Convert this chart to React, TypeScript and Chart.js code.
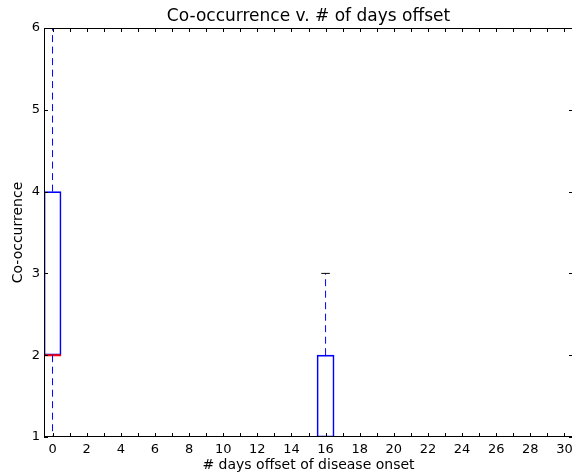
import { useEffect, useRef } from "react";
import { Chart, registerables } from "chart.js";

Chart.register(...registerables);

// Day offsets of disease onset (box positions)
const days = [0, 1, 2, 3, 4, 5, 6, 7, 8, 9, 10, 11, 12, 13, 14, 15, 16, 17, 18, 19, 20, 21, 22, 23, 24, 25, 26, 27, 28, 29, 30];

// Five-number summaries of co-occurrence per day
const whiskerLow = [1, 1, 1, 1, 1, 1, 1, 1, 1, 1, 1, 1, 1, 1, 1, 1, 1, 1, 1, 1, 1, 1, 1, 1, 1, 1, 1, 1, 1, 1, 1];
const q1 = [2, 1, 1, 1, 1, 1, 1, 1, 1, 1, 1, 1, 1, 1, 1, 1, 1, 1, 1, 1, 1, 1, 1, 1, 1, 1, 1, 1, 1, 1, 1];
const median = [2, 1, 1, 1, 1, 1, 1, 1, 1, 1, 1, 1, 1, 1, 1, 1, 1, 1, 1, 1, 1, 1, 1, 1, 1, 1, 1, 1, 1, 1, 1];
const q3 = [4, 1, 1, 1, 1, 1, 1, 1, 1, 1, 1, 1, 1, 1, 1, 1, 2, 1, 1, 1, 1, 1, 1, 1, 1, 1, 1, 1, 1, 1, 1];
const whiskerHigh = [6, 1, 1, 1, 1, 1, 1, 1, 1, 1, 1, 1, 1, 1, 1, 1, 3, 1, 1, 1, 1, 1, 1, 1, 1, 1, 1, 1, 1, 1, 1];

const yTicks = [1, 2, 3, 4, 5, 6];

const TITLE = "Co-occurrence v. # of days offset";
const X_LABEL = "# days offset of disease onset";
const Y_LABEL = "Co-occurrence";

const BOX_WIDTH = 1;
const CAP_WIDTH = 0.5;
const FONT = "'DejaVu Sans', sans-serif";

type Pt = { x: number; y: number | null };

// Build disjoint line segments separated by gap points
function segments(list: [number, number, number, number][]): Pt[] {
  const out: Pt[] = [];
  list.forEach(([x0, y0, x1, y1]) => {
    out.push({ x: x0, y: y0 }, { x: x1, y: y1 }, { x: x1, y: null });
  });
  return out;
}

export default function App() {
  const ref = useRef<HTMLCanvasElement>(null);

  useEffect(() => {
    document.body.style.margin = "0";
    document.body.style.overflow = "hidden";
    const canvas = ref.current!;

    const whiskers = segments(
      days.flatMap((d, i) => [
        [d, q1[i], d, whiskerLow[i]] as [number, number, number, number],
        [d, q3[i], d, whiskerHigh[i]] as [number, number, number, number],
      ])
    );
    const medians = segments(
      days.map((d, i) => [d - BOX_WIDTH / 2, median[i], d + BOX_WIDTH / 2, median[i]] as [number, number, number, number])
    );
    const caps = segments(
      days.flatMap((d, i) => [
        [d - CAP_WIDTH / 2, whiskerLow[i], d + CAP_WIDTH / 2, whiskerLow[i]] as [number, number, number, number],
        [d - CAP_WIDTH / 2, whiskerHigh[i], d + CAP_WIDTH / 2, whiskerHigh[i]] as [number, number, number, number],
      ])
    );

    const framePlugin = {
      id: "frame",
      afterDatasetsDraw(chart: any) {
        const { ctx, chartArea, scales } = chart;
        const { left, right, top, bottom } = chartArea;
        const xs = scales.x;
        const ys = scales.y;
        ctx.save();
        ctx.strokeStyle = "#000";
        ctx.lineWidth = 1;
        ctx.strokeRect(left + 0.5, top + 0.5, right - left - 1, bottom - top - 1);
        ctx.beginPath();
        days.forEach((d) => {
          const px = Math.round(xs.getPixelForValue(d)) + 0.5;
          ctx.moveTo(px, bottom);
          ctx.lineTo(px, bottom - 4);
          ctx.moveTo(px, top);
          ctx.lineTo(px, top + 4);
        });
        yTicks.forEach((v) => {
          const py = Math.round(ys.getPixelForValue(v)) + 0.5;
          ctx.moveTo(left, py);
          ctx.lineTo(left + 4, py);
          ctx.moveTo(right, py);
          ctx.lineTo(right - 4, py);
        });
        ctx.stroke();

        ctx.fillStyle = "#000";
        ctx.textAlign = "center";
        ctx.textBaseline = "middle";
        const cx = (left + right) / 2;
        ctx.font = `17px ${FONT}`;
        ctx.fillText(TITLE, cx, 17);
        ctx.font = `14px ${FONT}`;
        ctx.fillText(X_LABEL, cx, 465);
        ctx.translate(18, (top + bottom) / 2);
        ctx.rotate(-Math.PI / 2);
        ctx.fillText(Y_LABEL, 0, 0);
        ctx.restore();
      },
    };

    const chart = new Chart(canvas, {
      type: "bar",
      data: {
        datasets: [
          {
            type: "bar",
            data: days.map((d, i) => ({ x: d, y: [q1[i], q3[i]] })) as any,
            backgroundColor: "rgba(0,0,0,0)",
            borderColor: "#0000ff",
            borderWidth: 1,
            borderSkipped: false,
            barPercentage: 1,
            categoryPercentage: BOX_WIDTH,
            order: 4,
          } as any,
          {
            type: "line",
            data: medians as any,
            borderColor: "#ff0000",
            borderWidth: 2,
            pointRadius: 0,
            spanGaps: false,
            order: 3,
          },
          {
            type: "line",
            data: whiskers as any,
            borderColor: "#0000ff",
            borderWidth: 1,
            borderDash: [7, 4.5],
            pointRadius: 0,
            spanGaps: false,
            order: 2,
          },
          {
            type: "line",
            data: caps as any,
            borderColor: "#000000",
            borderWidth: 1,
            pointRadius: 0,
            spanGaps: false,
            order: 1,
          },
        ],
      },
      options: {
        responsive: false,
        animation: false,
        devicePixelRatio: 1,
        layout: { padding: { top: 28, right: 7, left: 0, bottom: 0 } },
        plugins: { legend: { display: false }, tooltip: { enabled: false }, title: { display: false } },
        scales: {
          x: {
            type: "linear",
            min: -0.5,
            max: 30.5,
            offset: false,
            grid: { display: false, drawTicks: false },
            border: { display: false },
            afterFit: (s: any) => {
              s.height = 38;
            },
            afterBuildTicks: (s: any) => {
              s.ticks = days.map((d) => ({ value: d }));
            },
            ticks: {
              autoSkip: false,
              maxRotation: 0,
              padding: 5,
              color: "#000",
              font: { family: FONT, size: 13 },
              callback: (v: any) => (Number(v) % 2 === 0 ? String(v) : ""),
            },
          },
          y: {
            type: "linear",
            min: 1,
            max: 6,
            grid: { display: false, drawTicks: false },
            border: { display: false },
            afterFit: (s: any) => {
              s.width = 44;
            },
            afterBuildTicks: (s: any) => {
              s.ticks = yTicks.map((v) => ({ value: v }));
            },
            ticks: {
              padding: 4,
              color: "#000",
              font: { family: FONT, size: 13 },
            },
          },
        },
      },
      plugins: [framePlugin],
    });

    return () => chart.destroy();
  }, []);

  return (
    <div style={{ width: 580, height: 475, background: "#fff" }}>
      <canvas ref={ref} width={580} height={475} style={{ display: "block" }} />
    </div>
  );
}
